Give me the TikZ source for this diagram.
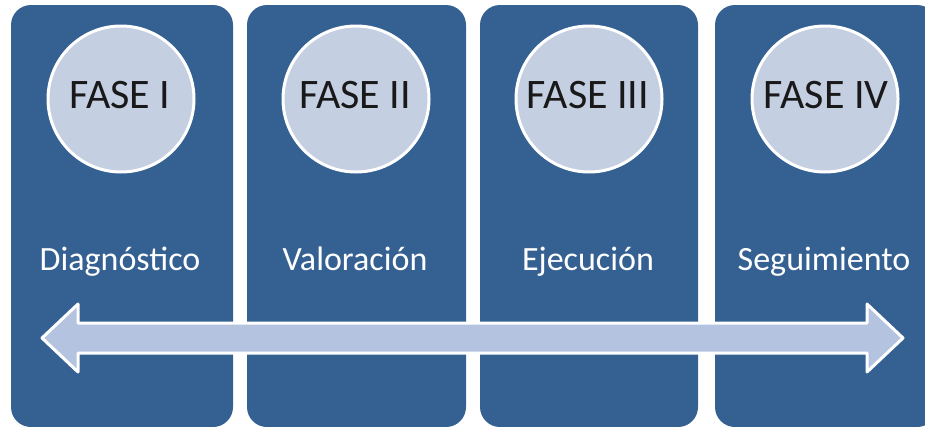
\documentclass[tikz,border=0pt]{standalone}
\usepackage{fontspec}
\setmainfont{Carlito}
\definecolor{boxblue}{RGB}{52,96,146}
\definecolor{circfill}{RGB}{197,207,226}
\definecolor{arrfill}{RGB}{180,196,224}
\definecolor{phtext}{RGB}{25,25,25}
\begin{document}
\begin{tikzpicture}[x=1pt,y=-1pt,
  phasebox/.style={fill=boxblue, rounded corners=20pt},
  phasecirc/.style={circle, fill=circfill, draw=white, line width=3pt, minimum size=146pt, inner sep=0pt},
  phasetext/.style={text=phtext, font=\fontsize{42}{42}\selectfont, anchor=base},
  phaselabel/.style={text=white, font=\fontsize{34}{34}\selectfont, anchor=base}]
\useasboundingbox (0,0) rectangle (925,426);
\clip (0,0) rectangle (925,426);
% boxes
\path[phasebox] (11,5) rectangle (233,427);
\path[phasebox] (247,5) rectangle (466,427);
\path[phasebox] (480,5) rectangle (698,427);
\path[phasebox] (715,5) rectangle (937,427);
\coordinate (b1) at (122,216);
\coordinate (b2) at (356,216);
\coordinate (b3) at (589,216);
\coordinate (b4) at (825,216);
% circles
\node[phasecirc] (c1) at (121,99) {};
\node[phasecirc] (c2) at (356,99) {};
\node[phasecirc] (c3) at (589,99) {};
\node[phasecirc] (c4) at (825,99) {};
\node[phasetext] (t1) at (120,108) {FASE I};
\node[phasetext] (t2) at (355,108) {FASE II};
\node[phasetext] (t3) at (588,108) {FASE III};
\node[phasetext] (t4) at (826,108) {FASE IV};
% labels
\node[phaselabel] (l1) at (120,270) {Diagnóstico};
\node[phaselabel] (l2) at (355,270) {Valoración};
\node[phaselabel] (l3) at (588,270) {Ejecución};
\node[phaselabel] (l4) at (824,270) {Seguimiento};
% double arrow
\coordinate (al) at (42,338);
\coordinate (ar) at (903,338);
\draw[fill=arrfill, draw=white, line width=3pt, line join=round]
  (al) -- ++(36,-34) -- ++(0,19) -- (867,323) -- ++(0,-19) -- (ar)
  -- (867,372) -- ++(0,-19) -- (78,353) -- ++(0,19) -- cycle;
\end{tikzpicture}
\end{document}
